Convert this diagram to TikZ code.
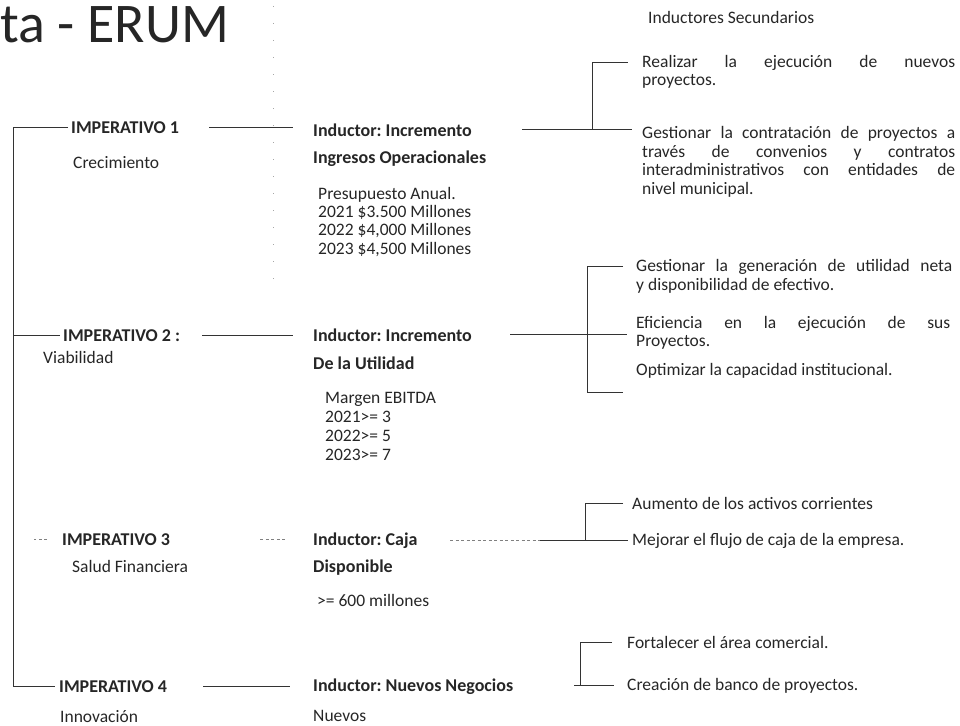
\documentclass[tikz,border=0pt]{standalone}
\usepackage{fontspec}
\setmainfont{Carlito}
\frenchspacing
\begin{document}
\frenchspacing
\begin{tikzpicture}[x=1pt,y=-1pt,
  txt/.style={anchor=base west, inner sep=0pt, text=black!85, font=\fontsize{17.5}{18.5}\selectfont},
  bld/.style={txt, font=\fontsize{18}{18.5}\selectfont\bfseries},
  conn/.style={draw=black!80, line width=0.7pt},
  faint/.style={draw=black!50, line width=0.6pt, dash pattern=on 3pt off 2.5pt},
  speck/.style={draw=black!35, line width=0.9pt, dash pattern=on 1pt off 16pt}
]
\useasboundingbox (0,0) rectangle (960,725);

% title
\node[anchor=base west, inner sep=0pt, text=black!85, font=\fontsize{56}{56}\selectfont] (title) at (0,43) {ta - ERUM};

% right column
\node[txt] (sec) at (648,24) {Inductores Secundarios};
\node[txt] (r1a) at (642,67) {\makebox[313pt][s]{Realizar la ejecución de nuevos}};
\node[txt] (r1b) at (642,85) {proyectos.};
\node[txt] (r2a) at (642,138) {\makebox[313pt][s]{Gestionar la contratación de proyectos a}};
\node[txt] (r2b) at (642,157) {\makebox[313pt][s]{través de convenios y contratos}};
\node[txt] (r2c) at (642,175) {\makebox[313pt][s]{interadministrativos con entidades de}};
\node[txt] (r2d) at (642,194) {nivel municipal.};
\node[txt] (r3a) at (636,271) {\makebox[316pt][s]{Gestionar la generación de utilidad neta}};
\node[txt] (r3b) at (636,290) {y disponibilidad de efectivo.};
\node[txt] (r4a) at (636,328) {\makebox[314pt][s]{Eficiencia en la ejecución de sus}};
\node[txt] (r4b) at (636,346) {Proyectos.};
\node[txt] (r5) at (636,375) {Optimizar la capacidad institucional.};
\node[txt] (r6a) at (632,509) {Aumento de los activos corrientes};
\node[txt] (r6b) at (632,545) {Mejorar el flujo de caja de la empresa.};
\node[txt] (r7a) at (627,648) {Fortalecer el área comercial.};
\node[txt] (r7b) at (627,690) {Creación de banco de proyectos.};

% middle column
\node[bld] (ind1a) at (313,136) {Inductor: Incremento};
\node[bld] (ind1b) at (313,163) {Ingresos Operacionales};
\node[txt] (p0) at (318,199) {Presupuesto Anual.};
\node[txt] (p1) at (318,217) {2021 \$3.500 Millones};
\node[txt] (p2) at (318,235.5) {2022 \$4,000 Millones};
\node[txt] (p3) at (318,254) {2023 \$4,500 Millones};

\node[bld] (ind2a) at (313,341) {Inductor: Incremento};
\node[bld] (ind2b) at (313,369) {De la Utilidad};
\node[txt] (m0) at (325,403) {Margen EBITDA};
\node[txt] (m1) at (325,422) {2021>= 3};
\node[txt] (m2) at (325,441) {2022>= 5};
\node[txt] (m3) at (325,460) {2023>= 7};

\node[bld] (ind3a) at (313,545) {Inductor: Caja};
\node[bld] (ind3b) at (313,572) {Disponible};
\node[txt] (c0) at (317,606) {>= 600 millones};

\node[bld] (ind4a) at (313,691) {Inductor: Nuevos Negocios};
\node[txt] (ind4b) at (313,721) {Nuevos};

% left column
\node[bld] (imp1) at (71,133) {IMPERATIVO 1};
\node[txt] (imp1t) at (73,168) {Crecimiento};
\node[bld] (imp2) at (63,341) {IMPERATIVO 2 :};
\node[txt] (imp2t) at (43,363) {Viabilidad};
\node[bld] (imp3) at (62,545) {IMPERATIVO 3};
\node[txt] (imp3t) at (72,572) {Salud Financiera};
\node[bld] (imp4) at (59,692) {IMPERATIVO 4};
\node[txt] (imp4t) at (60,722) {Innovación};

% faint dotted mark line
\coordinate (d1) at (273,6);
\coordinate (d2) at (273,292);
\draw[speck] (d1) -- (d2);

% left spine
\coordinate (sp) at (13,0);
\draw[conn] ([xshift=-3pt]imp1.west) -- (sp |- imp1.west) -- (sp |- imp4.west) -- ([xshift=-4pt]imp4.west);
\draw[conn] (sp |- imp2.west) -- ([xshift=-3pt]imp2.west);
\draw[faint] ([xshift=-15pt]imp3.west) -- ([xshift=-28pt]imp3.west);

% imperativo -> inductor
\draw[conn, shorten <=30pt, shorten >=20pt] (imp1.east) -- (imp1.east -| ind1a.west);
\draw[conn, shorten <=22pt, shorten >=20pt] (imp2.east) -- (imp2.east -| ind2a.west);
\draw[faint, shorten <=90pt, shorten >=26pt] (imp3.east) -- (imp3.east -| ind3a.west);
\draw[conn, shorten <=36pt, shorten >=23pt] (imp4.east) -- (imp4.east -| ind4a.west);

% bracket 1
\coordinate (k1) at (592,0);
\draw[conn, shorten <=209pt, shorten >=10pt] (ind1a.west) -- (ind1a.west -| r2a.west);
\draw[conn] (k1 |- ind1a.west) |- ([xshift=-14pt]r1a.west);

% bracket 2
\coordinate (k2) at (587,0);
\coordinate (k2b) at (623,392);
\draw[conn, shorten <=197pt, shorten >=9pt] (ind2a.west) -- (ind2a.west -| r4b.west);
\draw[conn] ([xshift=-13pt]r3a.west) -| (k2 |- k2b) -- (k2b);

% bracket 3
\coordinate (k3) at (585,0);
\coordinate (k3m) at (540,0);
\draw[faint, shorten <=137pt] (ind3a.west) -- (k3m |- ind3a.west);
\draw[conn, shorten >=4pt] (k3m |- ind3a.west) -- (ind3a.west -| r6b.west);
\draw[conn] ([xshift=-9pt]r6a.west) -| (k3 |- ind3a.west);

% bracket 4
\coordinate (k4) at (580,0);
\coordinate (k4b) at (574,0);
\draw[conn] ([xshift=-15pt]r7a.west) -| (k4 |- r7b.west);
\draw[conn] (k4b |- r7b.west) -- ([xshift=-13pt]r7b.west);
\end{tikzpicture}
\end{document}
